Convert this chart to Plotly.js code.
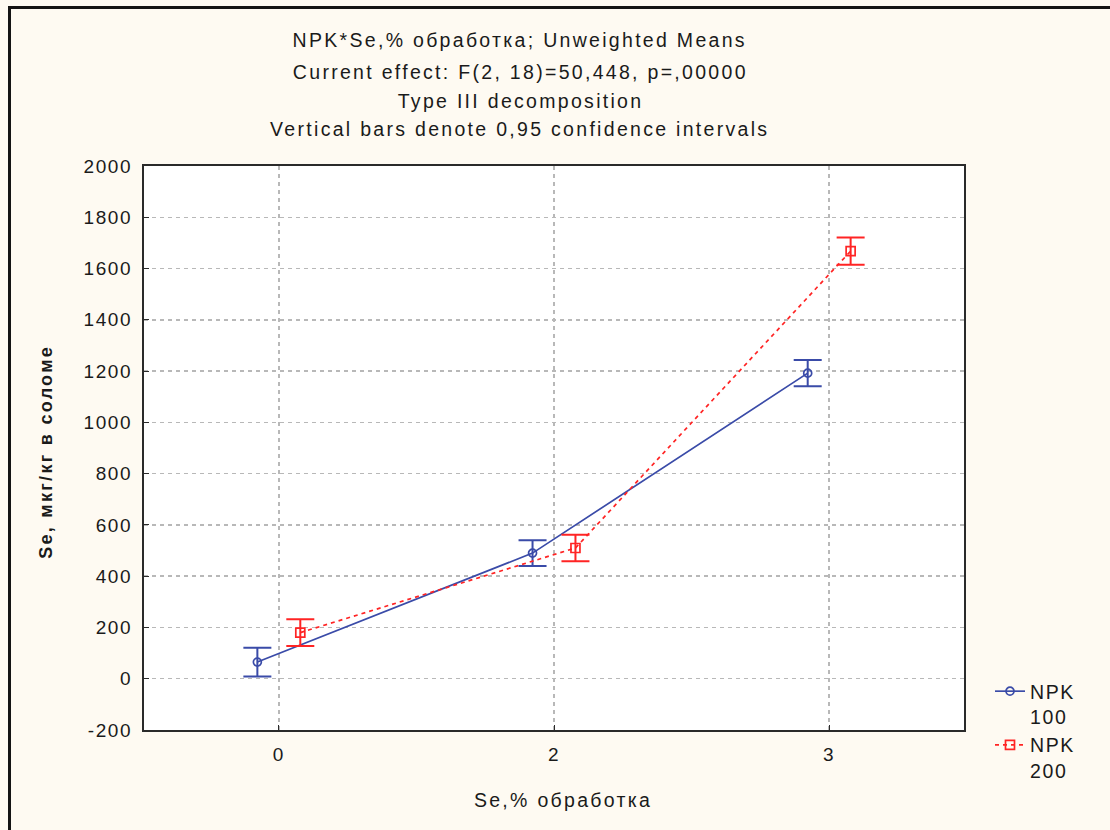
<!DOCTYPE html>
<html>
<head>
<meta charset="utf-8">
<script src="https://cdn.plot.ly/plotly-3.0.1.min.js"></script>
<style>
  html, body { margin: 0; padding: 0; background: #fefaf2; }
  #wrap { position: relative; width: 1110px; height: 830px; }
  #chart { position: absolute; left: 0; top: 0; width: 1110px; height: 830px; }
  #frame { position: absolute; left: 8px; top: 6px; right: 0; bottom: 0;
           border-top: 3px solid #141414; border-left: 3px solid #141414;
           pointer-events: none; }
  /* the chart text is set a little loose, in the style of the old stats package */
  #chart .annotation-text { letter-spacing: 2.3px; }
  #chart .xtick text, #chart .ytick text { letter-spacing: 1.6px; }
  #chart .legendtext { letter-spacing: 1.6px; }
</style>
</head>
<body>
<div id="wrap">
  <div id="chart"></div>
  <div id="frame"></div>
</div>
<script>
// Se treatment levels (%), shown as categories along x
const seLevels = ['0', '2', '3'];

// Means of Se in straw (µg/kg) and half-widths of 0.95 confidence intervals
const npk100Means = [65, 490, 1192];
const npk100CI = [56, 50, 51];
const npk200Means = [180, 510, 1668];
const npk200CI = [52, 52, 53];

const seriesNames = ['NPK<br>100', 'NPK<br>200'];

// y tick values, written with a plain hyphen for negatives
const yTicks = [-200, 0, 200, 400, 600, 800, 1000, 1200, 1400, 1600, 1800, 2000];
const yTickText = yTicks.map(v => String(v));

const titleLines = [
  'NPK*Se,% обработка; Unweighted Means',
  'Current effect: F(2, 18)=50,448, p=,00000',
  'Type III decomposition',
  'Vertical bars denote 0,95 confidence intervals'
];

const FONT = 'Liberation Sans, Arial, sans-serif';
const BLUE = '#3a4ba8';
const RED = '#ff2424';

// Slight horizontal offset so the two groups do not overlap at each level
const idx = seLevels.map((_, i) => i);
const dodge = 0.078;

const traces = [
  {
    x: idx.map(i => i - dodge), y: npk100Means, name: seriesNames[0],
    type: 'scatter', mode: 'lines+markers',
    line: { color: BLUE, width: 1.7 },
    marker: { symbol: 'circle-open', size: 8, color: BLUE, line: { width: 1.7 } },
    error_y: { type: 'data', array: npk100CI, visible: true, color: BLUE, thickness: 2, width: 14 }
  },
  {
    x: idx.map(i => i + dodge), y: npk200Means, name: seriesNames[1],
    type: 'scatter', mode: 'lines+markers',
    line: { color: RED, width: 1.7, dash: '4px,4px' },
    marker: { symbol: 'square-open', size: 9, color: RED, line: { width: 1.7 } },
    error_y: { type: 'data', array: npk200CI, visible: true, color: RED, thickness: 2, width: 14 }
  }
];

const plotTop = 166, plotBottom = 730, plotLeft = 144, plotRight = 964;
const ph = plotBottom - plotTop, pw = plotRight - plotLeft;
const py = p => (plotBottom - p) / ph;
const px = p => (p - plotLeft) / pw;

const titleY = [40, 72, 101, 129];
const annotations = titleLines.map((t, i) => ({
  text: t, xref: 'paper', yref: 'paper', x: px(520), y: py(titleY[i]),
  xanchor: 'center', yanchor: 'middle', showarrow: false,
  font: { family: FONT, size: 19.5, color: '#1a1a1a' }
}));
annotations.push({
  text: 'Se,% обработка', xref: 'paper', yref: 'paper', x: px(563), y: py(800),
  xanchor: 'center', yanchor: 'middle', showarrow: false,
  font: { family: FONT, size: 19.5, color: '#1a1a1a' }
});
annotations.push({
  text: 'Se, мкг/кг в соломе', xref: 'paper', yref: 'paper', x: px(46), y: py(452),
  xanchor: 'center', yanchor: 'middle', showarrow: false, textangle: -90,
  font: { family: FONT, size: 18, color: '#1a1a1a', weight: 'bold' }
});

const gridStyle = { showgrid: true, gridcolor: '#b8b8b8', gridwidth: 1.5, griddash: '4px,4px' };

const layout = {
  width: 1110, height: 830,
  paper_bgcolor: '#fefaf2', plot_bgcolor: '#ffffff',
  margin: { l: plotLeft, r: 1110 - plotRight, t: plotTop, b: 830 - plotBottom },
  font: { family: FONT, size: 19, color: '#1a1a1a' },
  showlegend: true,
  legend: {
    x: px(990), y: py(672), xanchor: 'left', yanchor: 'top',
    bgcolor: 'rgba(0,0,0,0)', valign: 'top', itemwidth: 30,
    font: { family: FONT, size: 19.5, color: '#1a1a1a' }, tracegroupgap: 0
  },
  xaxis: Object.assign({
    range: [-0.49, 2.49], tickmode: 'array', tickvals: idx, ticktext: seLevels,
    showline: true, mirror: true, linecolor: '#2a2a2a', linewidth: 2,
    ticks: 'inside', ticklen: 5, tickcolor: '#2a2a2a', zeroline: false,
    ticklabelstandoff: 6,
    tickfont: { family: FONT, size: 19, color: '#1a1a1a' }
  }, gridStyle),
  yaxis: Object.assign({
    range: [-200, 2000], tickmode: 'array', tickvals: yTicks, ticktext: yTickText,
    showline: true, mirror: true, linecolor: '#2a2a2a', linewidth: 2,
    ticks: 'inside', ticklen: 5, tickcolor: '#2a2a2a', zeroline: false,
    ticklabelstandoff: 6,
    tickfont: { family: FONT, size: 19, color: '#1a1a1a' }
  }, gridStyle),
  annotations: annotations
};

Plotly.newPlot('chart', traces, layout, { staticPlot: true, displayModeBar: false });
</script>
</body>
</html>
